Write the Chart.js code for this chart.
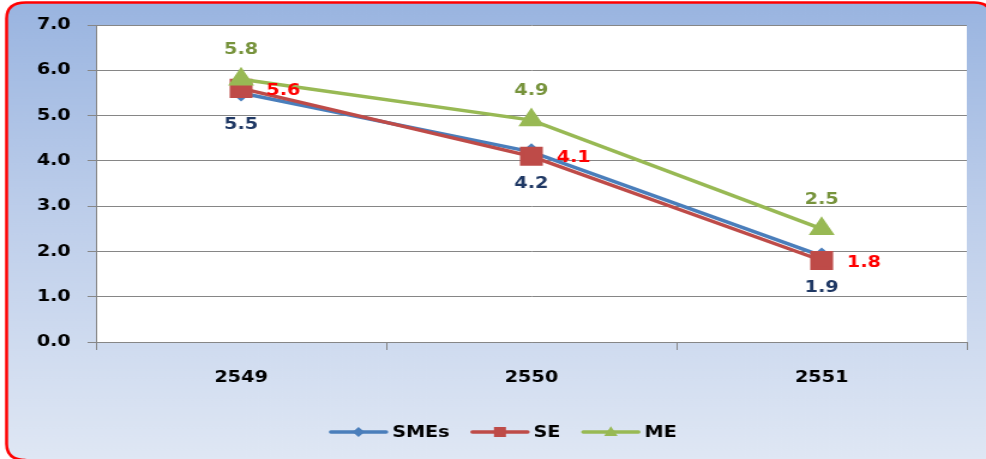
<!DOCTYPE html>
<html>
<head>
<meta charset="utf-8">
<script src="https://cdn.jsdelivr.net/npm/chart.js@4.4.1/dist/chart.umd.min.js"></script>
<style>
  html, body { margin: 0; padding: 0; background: #ffffff; overflow: hidden; }
  #wrap { position: absolute; left: 0; top: 0; width: 822px; height: 459px;
          transform: scaleX(1.19951); transform-origin: 0 0; }
  canvas { display: block; width: 822px; height: 459px; }
</style>
</head>
<body>
<div id="wrap"><canvas id="c" width="822" height="459"></canvas></div>
<script>
// ---- data ----
const categories = ['2549', '2550', '2551'];
const smesValues = [5.5, 4.2, 1.9];
const seValues   = [5.6, 4.1, 1.8];
const meValues   = [5.8, 4.9, 2.5];
const yTickMin = 0;
const yTickMax = 7;
const yTickStep = 1;
const seriesNames = ['SMEs', 'SE', 'ME'];

const FONT = '"DejaVu Sans", Verdana, sans-serif';

// background + border + white plot area
const backgroundPlugin = {
  id: 'bg',
  beforeDraw(chart) {
    const ctx = chart.ctx;
    const W = 822, H = 459;
    ctx.save();
    ctx.fillStyle = '#ffffff';
    ctx.fillRect(0, 0, W, H);
    const x0 = 5.5, y0 = 2.5, r = 16;
    const g = ctx.createLinearGradient(0, 0, 0, H);
    g.addColorStop(0, '#99b4e0');
    g.addColorStop(0.45, '#bccdea');
    g.addColorStop(1, '#dfe7f4');
    // fill region
    ctx.beginPath();
    ctx.moveTo(x0, H - r);
    ctx.lineTo(x0, y0 + r);
    ctx.quadraticCurveTo(x0, y0, x0 + r, y0);
    ctx.lineTo(W - 10, y0);
    ctx.quadraticCurveTo(W + 4, y0, W + 4, y0 + 14);
    ctx.lineTo(W + 4, H + 4);
    ctx.lineTo(x0 + r, H + 4);
    ctx.quadraticCurveTo(x0, H + 4, x0, H - r);
    ctx.closePath();
    ctx.fillStyle = g;
    ctx.fill();
    // open border stroke (left, top-left corner, top, top-right corner)
    ctx.beginPath();
    ctx.moveTo(x0 + r, H + 1);
    ctx.quadraticCurveTo(x0, H + 1, x0, H - r + 1);
    ctx.lineTo(x0, y0 + r);
    ctx.quadraticCurveTo(x0, y0, x0 + r, y0);
    ctx.lineTo(W - 10, y0);
    ctx.quadraticCurveTo(W + 4, y0, W + 4, y0 + 14);
    ctx.lineWidth = 2.5;
    ctx.strokeStyle = '#ff0000';
    ctx.stroke();
    const a = chart.chartArea;
    ctx.fillStyle = '#ffffff';
    ctx.fillRect(a.left, a.top, a.right - a.left, a.bottom - a.top);
    ctx.restore();
  }
};

// value labels
const labelColors = ['#1f3864', '#ff0000', '#77933c'];
const labelPlugin = {
  id: 'vlabels',
  afterDatasetsDraw(chart) {
    const ctx = chart.ctx;
    ctx.save();
    ctx.font = 'bold 16px ' + FONT;
    chart.data.datasets.forEach((ds, i) => {
      const meta = chart.getDatasetMeta(i);
      meta.data.forEach((pt, j) => {
        const txt = ds.data[j].toFixed(1);
        ctx.fillStyle = labelColors[i];
        if (i === 0) {        // below
          ctx.textAlign = 'center'; ctx.textBaseline = 'middle';
          ctx.fillText(txt, pt.x, pt.y + 32);
        } else if (i === 1) { // right
          ctx.textAlign = 'left'; ctx.textBaseline = 'middle';
          ctx.fillText(txt, pt.x + 21, pt.y + 2);
        } else {              // above
          ctx.textAlign = 'center'; ctx.textBaseline = 'middle';
          ctx.fillText(txt, pt.x, pt.y - 29);
        }
      });
    });
    ctx.restore();
  }
};

function drawMarker(ctx, style, x, y, r, color) {
  ctx.fillStyle = color;
  ctx.beginPath();
  if (style === 'rectRot') {
    ctx.moveTo(x, y - r); ctx.lineTo(x + r, y); ctx.lineTo(x, y + r); ctx.lineTo(x - r, y);
  } else if (style === 'rect') {
    ctx.rect(x - r, y - r, 2 * r, 2 * r);
  } else {
    const h = r * 1.5;
    ctx.moveTo(x, y - h * 0.6); ctx.lineTo(x + r * 0.866, y + h * 0.4); ctx.lineTo(x - r * 0.866, y + h * 0.4);
  }
  ctx.closePath();
  ctx.fill();
}

// legend with line + marker
const legendPlugin = {
  id: 'lineLegend',
  afterDraw(chart) {
    const ctx = chart.ctx;
    ctx.save();
    ctx.font = 'bold 16px ' + FONT;
    const lineLen = 46, gap = 5, itemGap = 19, cy = 432;
    const markerR = [5, 5, 6.5];
    const items = chart.data.datasets.map(ds => ({ ds, w: lineLen + gap + ctx.measureText(ds.label).width }));
    const total = items.reduce((s, it) => s + it.w, 0) + itemGap * (items.length - 1);
    let x = 420 - total / 2;
    items.forEach((it, i) => {
      ctx.strokeStyle = it.ds.borderColor;
      ctx.lineWidth = 3.5;
      ctx.lineCap = 'round';
      ctx.beginPath(); ctx.moveTo(x, cy); ctx.lineTo(x + lineLen, cy); ctx.stroke();
      drawMarker(ctx, it.ds.pointStyle, x + lineLen / 2, cy, markerR[i], it.ds.pointBackgroundColor);
      ctx.fillStyle = '#000000';
      ctx.textAlign = 'left'; ctx.textBaseline = 'middle';
      ctx.fillText(it.ds.label, x + lineLen + gap, cy + 1);
      x += it.w + itemGap;
    });
    ctx.restore();
  }
};

new Chart(document.getElementById('c'), {
  type: 'line',
  data: {
    labels: categories,
    datasets: [
      { label: seriesNames[0], data: smesValues, borderColor: '#4a7ebb', backgroundColor: '#4a7ebb',
        pointBackgroundColor: '#4a7ebb', pointBorderColor: '#4a7ebb', pointStyle: 'rectRot',
        pointRadius: 6, borderWidth: 3.5, tension: 0, order: 2 },
      { label: seriesNames[1], data: seValues, borderColor: '#be4b48', backgroundColor: '#be4b48',
        pointBackgroundColor: '#be4b48', pointBorderColor: '#be4b48', pointStyle: 'rect',
        pointRadius: 11, borderWidth: 3.5, tension: 0, order: 1 },
      { label: seriesNames[2], data: meValues, borderColor: '#98b954', backgroundColor: '#98b954',
        pointBackgroundColor: '#98b954', pointBorderColor: '#98b954', pointStyle: 'triangle',
        pointRadius: 9, borderWidth: 3.5, tension: 0, order: 0 }
    ]
  },
  options: {
    responsive: false,
    animation: false,
    devicePixelRatio: 1,
    layout: { padding: { left: 0, right: 16, top: 25, bottom: 0 } },
    plugins: { legend: { display: false }, tooltip: { enabled: false } },
    scales: {
      x: {
        type: 'category',
        offset: true,
        grid: { offset: true, drawOnChartArea: false, drawTicks: true, tickLength: 8, color: '#868686', lineWidth: 1 },
        border: { display: true, color: '#868686', width: 1 },
        ticks: { color: '#000000', font: { family: FONT, size: 16, weight: 'bold' }, padding: 18, maxRotation: 0 },
        afterFit(scale) { scale.height = 117; }
      },
      y: {
        min: yTickMin, max: yTickMax,
        ticks: { stepSize: yTickStep, color: '#000000', font: { family: FONT, size: 16, weight: 'bold' }, padding: 14,
                 callback: v => Number(v).toFixed(1) },
        grid: { color: '#868686', lineWidth: 1, tickLength: 7 },
        border: { display: true, color: '#868686', width: 1 },
        afterFit(scale) { scale.width = 80; }
      }
    }
  },
  plugins: [backgroundPlugin, labelPlugin, legendPlugin]
});
</script>
</body>
</html>
